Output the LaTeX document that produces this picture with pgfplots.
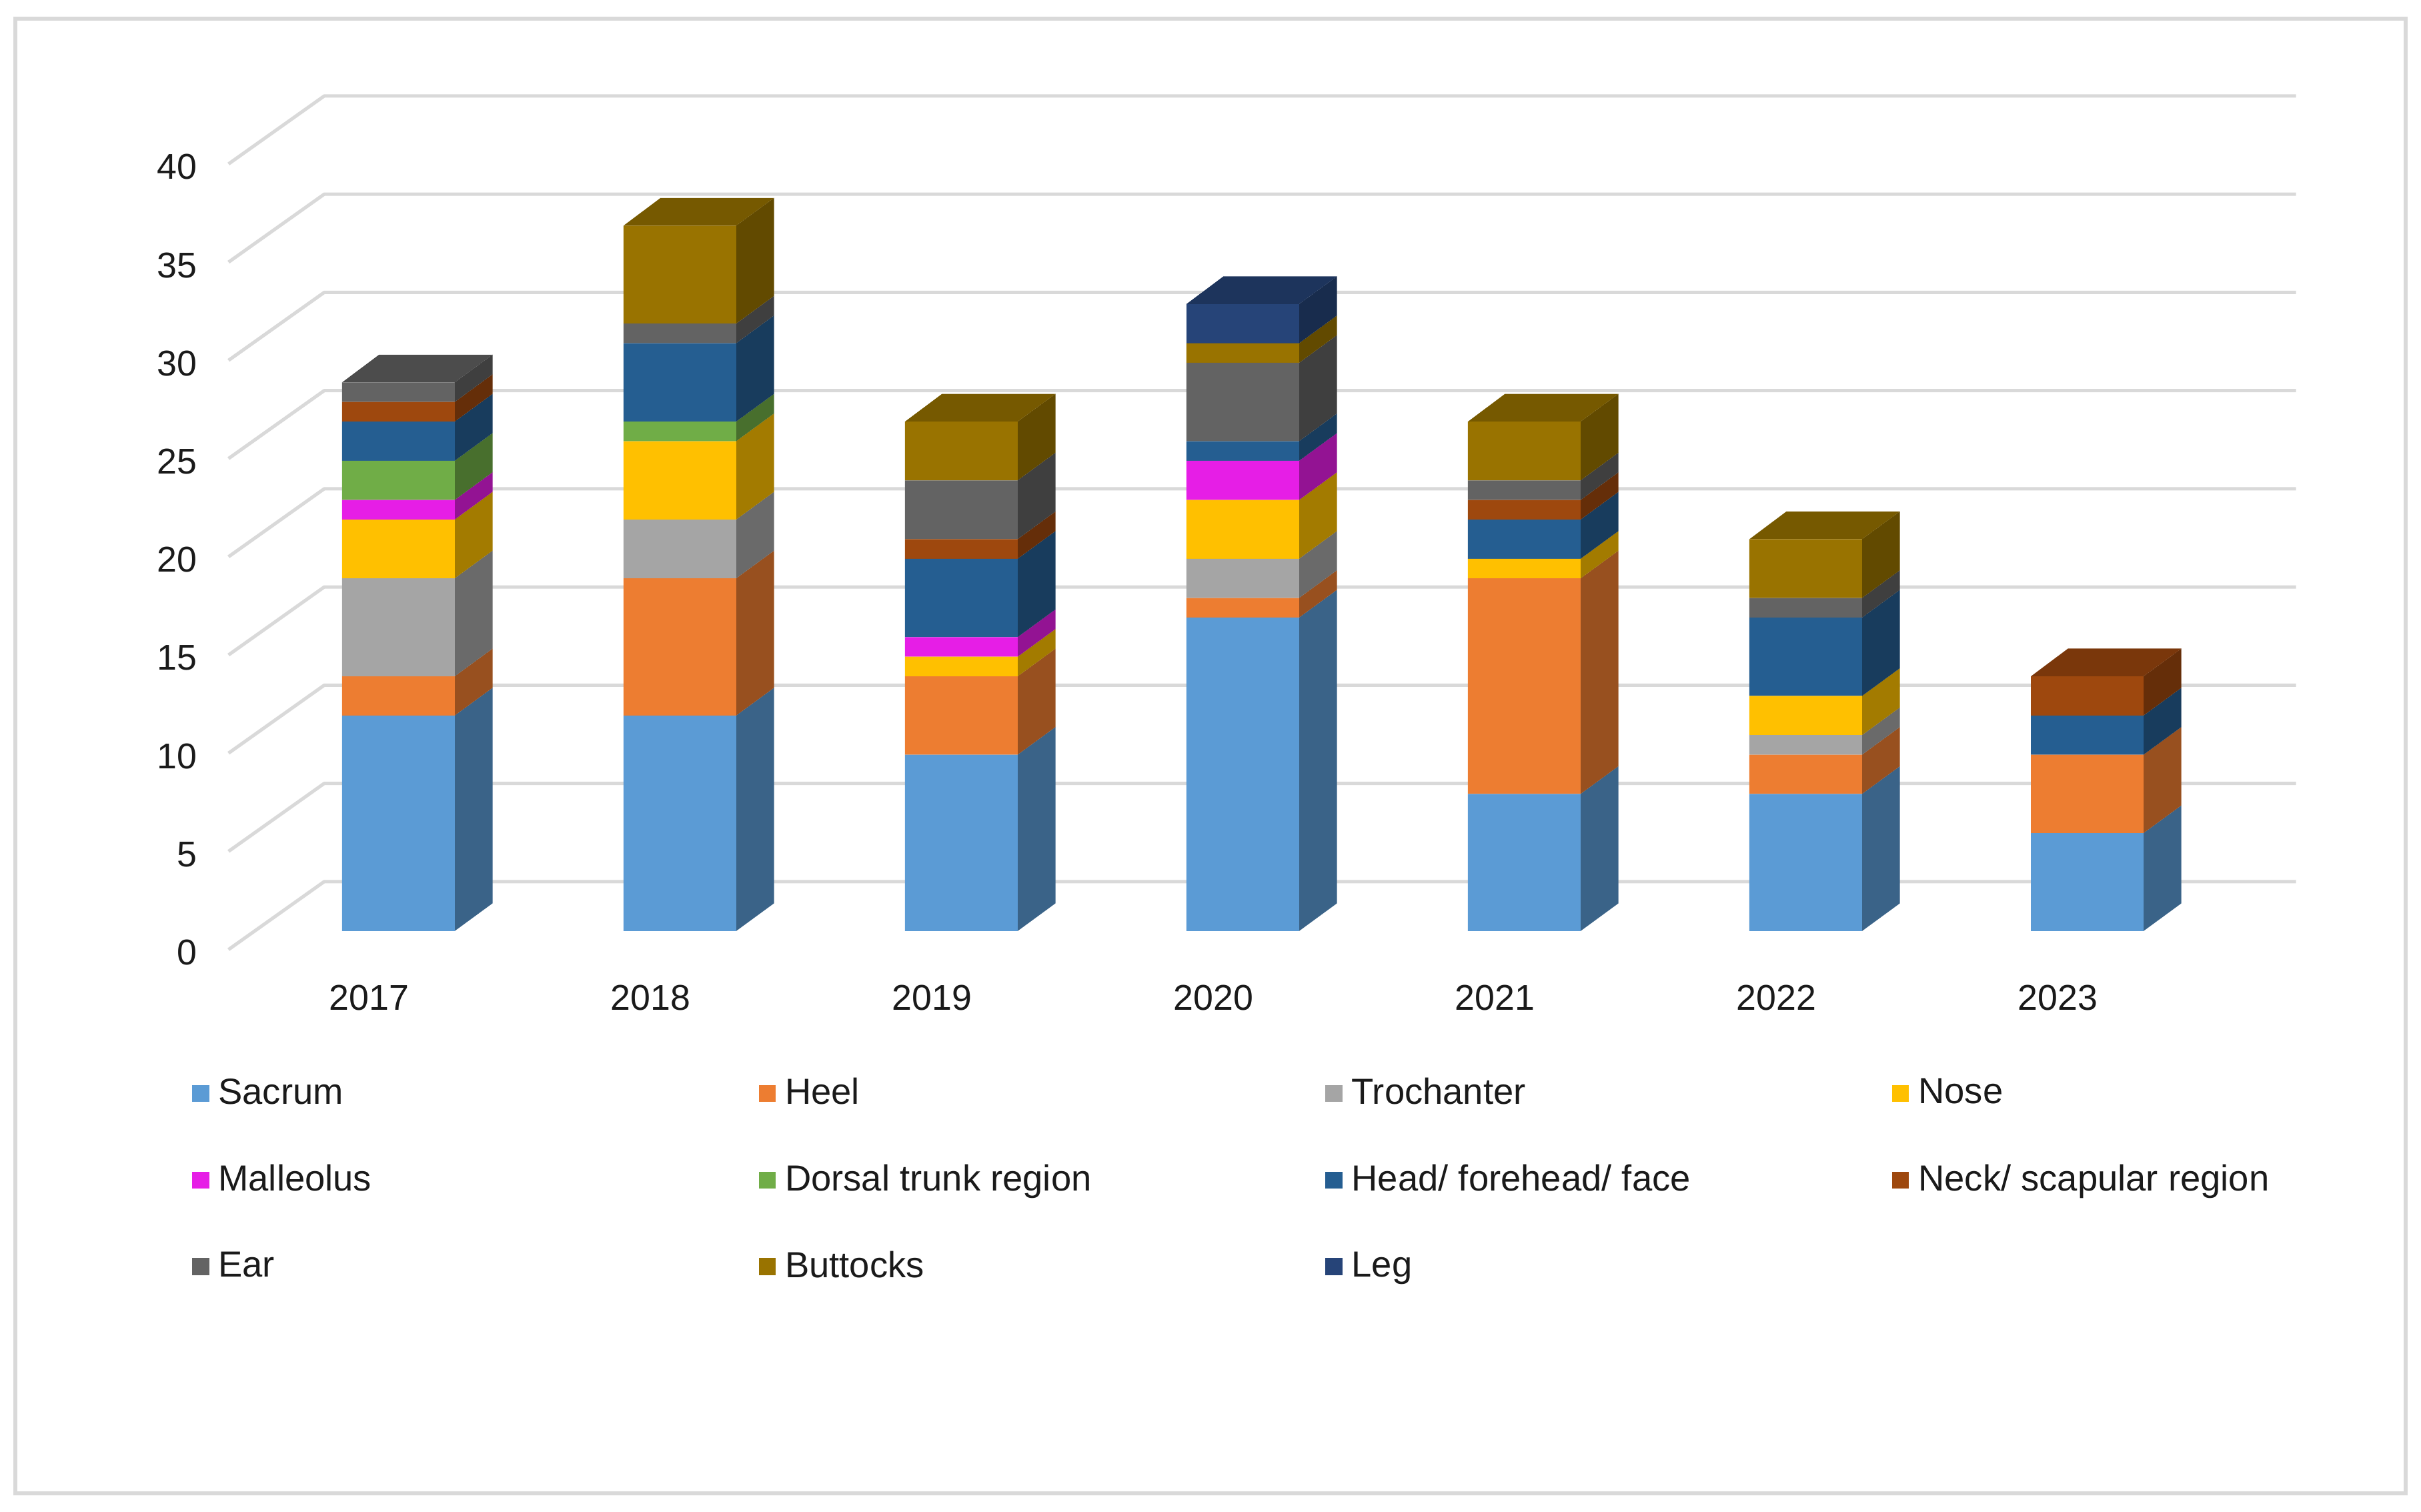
\documentclass[border=0pt]{standalone}
\usepackage{fontspec}
\setmainfont{Liberation Sans}
\usepackage{pgfplots}
\usepackage{pgfplotstable}
\pgfplotsset{compat=1.18}

% series colours: front, side (darker), top (a bit less dark)
\definecolor{cSacrum}{HTML}{5B9BD5}
\definecolor{cHeel}{HTML}{ED7D31}
\definecolor{cTrochanter}{HTML}{A5A5A5}
\definecolor{cNose}{HTML}{FFC000}
\definecolor{cMalleolus}{HTML}{E61EE6}
\definecolor{cDorsal}{HTML}{70AD47}
\definecolor{cHead}{HTML}{255E91}
\definecolor{cNeck}{HTML}{9E480E}
\definecolor{cEar}{HTML}{636363}
\definecolor{cButtocks}{HTML}{997300}
\definecolor{cLeg}{HTML}{264478}
\definecolor{gridgrey}{HTML}{D9D9D9}
\definecolor{labeltext}{HTML}{1A1A1A}

\pgfplotstableread{
idx Sacrum Heel Trochanter Nose Malleolus Dorsal Head Neck Ear Buttocks Leg
0   11     2    5          3    1         2      2    1    1   0        0
1   11     7    3          4    0         1      4    0    1   5        0
2   9      4    0          1    1         0      4    1    3   3        0
3   16     1    2          3    2         0      1    0    4   1        2
4   7      11   0          1    0         0      2    1    1   3        0
5   7      2    1          2    0         0      4    0    1   3        0
6   5      4    0          0    0         0      2    2    0   0        0
}\datatable

% 1 px of the 1568 px wide view = 0.5pt
\pgfplotsset{
  base/.style={
    x=91.15pt, y=6.36pt,
    xmin=-0.6034, xmax=6.7416,
    ymin=0,
    clip=false,
    anchor=south west,
    axis line style={draw=none},
    major tick length=0pt,
    tick style={draw=none},
    /pgf/number format/assume math mode=true,
    every tick label/.append style={font=\fontsize{11.6}{14}\selectfont, text=labeltext},
  },
  bars/.style={base, y=6.345pt, at={(74pt,188pt)}, ymax=42.6},
}

\newcommand{\wall}[1]{%
  \pgfmathsetmacro\vb{#1+3.46}%
  \edef\tmp{\noexpand\addplot[gridgrey, line width=1.1pt, no markers, line join=bevel, forget plot]
    coordinates {(-0.6034,#1) (-0.2634,\vb) (6.7416,\vb)};}\tmp
}
% side face of one segment of a bar
\newcommand{\sideface}[4]{%
  \pgfmathsetmacro\xa{#1+0.2}%
  \pgfmathsetmacro\xb{#1+0.3346}%
  \pgfmathsetmacro\ya{#2+1.415}%
  \pgfmathsetmacro\yb{#3+1.415}%
  \edef\tmp{\noexpand\addplot[draw=none, fill=c#4!64!black, no markers, forget plot]
    coordinates {(\xa,#2) (\xb,\ya) (\xb,\yb) (\xa,#3)} --cycle;}\tmp
}
% top face of a bar
\newcommand{\topface}[3]{%
  \pgfmathsetmacro\xa{#1-0.2}%
  \pgfmathsetmacro\xb{#1+0.2}%
  \pgfmathsetmacro\xc{#1+0.3346}%
  \pgfmathsetmacro\xd{#1-0.0684}%
  \pgfmathsetmacro\ya{#2+1.415}%
  \edef\tmp{\noexpand\addplot[draw=none, fill=c#3!77!black, no markers, forget plot]
    coordinates {(\xa,#2) (\xd,\ya) (\xc,\ya) (\xb,#2)} --cycle;}\tmp
}
% legend text in a box of fixed width, so that the columns are evenly spaced
\newcommand{\entry}[2][174pt]{\addlegendentry{\makebox[#1][l]{\hspace{1pt}#2}}}

\begin{document}
\begin{tikzpicture}
\path (0,0) rectangle (784pt,489.5pt);
\draw[gridgrey, line width=1.25pt] (5pt,6pt) rectangle (779pt,483.5pt);

% back wall, with the real 0-40 scale on its front edge
\begin{axis}[
  base,
  at={(74pt,182pt)},
  ymax=43.5,
  xtick=\empty,
  ytick={0,5,...,40},
  yticklabel style={anchor=east, inner sep=0pt, xshift=-10pt, yshift=-1pt},
]
\foreach \v in {0,5,...,40} {\wall{\v}}
\end{axis}

% side and top faces of the bars
\begin{axis}[
  bars,
  xtick=\empty, ytick=\empty,
]
\foreach \r in {0,...,6} {
  \xdef\cum{0}
  \foreach \c in {Sacrum,Heel,Trochanter,Nose,Malleolus,Dorsal,Head,Neck,Ear,Buttocks,Leg} {
    \pgfplotstablegetelem{\r}{\c}\of\datatable
    \let\val\pgfplotsretval
    \ifdim\val pt>0pt
      \pgfmathsetmacro\nxt{\cum+\val}
      \sideface{\r}{\cum}{\nxt}{\c}
      \xdef\cum{\nxt}
      \xdef\lastc{\c}
    \fi
  }
  \topface{\r}{\cum}{\lastc}
}
\end{axis}

% front faces
\begin{axis}[
  bars,
  ybar stacked,
  bar width=36.5pt,
  ytick=\empty,
  xtick={-0.104,0.896,1.896,2.896,3.896,4.896,5.896},
  xticklabels={2017,2018,2019,2020,2021,2022,2023},
  xticklabel style={anchor=base, inner sep=0pt, yshift=-25.5pt},
  legend columns=4,
  legend cell align=left,
  legend image code/.code={\fill[#1] (0pt,-2.75pt) rectangle (5.5pt,2.75pt);},
  legend style={
    at={(-0.0179,-0.168)}, anchor=north west,
    draw=none, fill=none, inner sep=0pt,
    font=\fontsize{11.75}{14}\selectfont,
    text=labeltext,
    /tikz/row sep=14pt,
    /tikz/column sep=0pt,
  },
]
\addplot[draw=none, fill=cSacrum]     table[x=idx, y=Sacrum]     {\datatable};
\entry{Sacrum}
\addplot[draw=none, fill=cHeel]       table[x=idx, y=Heel]       {\datatable};
\entry{Heel}
\addplot[draw=none, fill=cTrochanter] table[x=idx, y=Trochanter] {\datatable};
\entry{Trochanter}
\addplot[draw=none, fill=cNose]       table[x=idx, y=Nose]       {\datatable};
\entry[125pt]{Nose}
\addplot[draw=none, fill=cMalleolus]  table[x=idx, y=Malleolus]  {\datatable};
\entry{Malleolus}
\addplot[draw=none, fill=cDorsal]     table[x=idx, y=Dorsal]     {\datatable};
\entry{Dorsal trunk region}
\addplot[draw=none, fill=cHead]       table[x=idx, y=Head]       {\datatable};
\entry{Head/ forehead/ face}
\addplot[draw=none, fill=cNeck]       table[x=idx, y=Neck]       {\datatable};
\entry[125pt]{Neck/ scapular region}
\addplot[draw=none, fill=cEar]        table[x=idx, y=Ear]        {\datatable};
\entry{Ear}
\addplot[draw=none, fill=cButtocks]   table[x=idx, y=Buttocks]   {\datatable};
\entry{Buttocks}
\addplot[draw=none, fill=cLeg]        table[x=idx, y=Leg]        {\datatable};
\entry{Leg}
\end{axis}
\end{tikzpicture}
\end{document}
